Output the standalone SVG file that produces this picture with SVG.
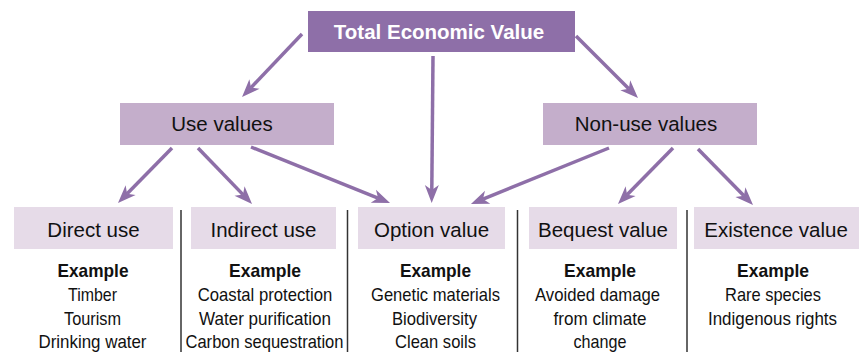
<svg xmlns="http://www.w3.org/2000/svg" width="859" height="354" viewBox="0 0 859 354">
<style>
.top{fill:#8e6fa8}
.mid{fill:#c4aecb}
.low{fill:#e6dbe8}
.lbl{font-family:"Liberation Sans",Arial,sans-serif;font-size:20.5px;fill:#111;text-anchor:middle}
.ttl{font-family:"Liberation Sans",Arial,sans-serif;font-size:20.5px;font-weight:bold;fill:#fff;text-anchor:middle}
.exh{font-family:"Liberation Sans",Arial,sans-serif;font-size:19px;font-weight:bold;fill:#111;text-anchor:middle}
.ex{font-family:"Liberation Sans",Arial,sans-serif;font-size:19px;fill:#111;text-anchor:middle}
.arr{stroke:#8e6fa8;stroke-width:3.5;fill:none;marker-end:url(#ah)}
.div{stroke:#333;stroke-width:1.5}
</style>
<defs>
<marker id="ah" markerUnits="userSpaceOnUse" markerWidth="20" markerHeight="16" refX="5" refY="7" orient="auto" overflow="visible">
<path d="M18,7 L0,0 L5,7 L0,14 Z" fill="#8e6fa8"/>
</marker>
</defs>
<g id="connectors">
<line class="arr" x1="302" y1="34" x2="251" y2="87.6"/>
<line class="arr" x1="433" y1="56" x2="431.8" y2="190"/>
<line class="arr" x1="576" y1="36" x2="628.8" y2="88.8"/>
<line class="arr" x1="172" y1="148" x2="127.1" y2="193.7"/>
<line class="arr" x1="198" y1="148" x2="243" y2="194.6"/>
<line class="arr" x1="251" y1="147" x2="378" y2="198.1"/>
<line class="arr" x1="609" y1="148" x2="483" y2="199.1"/>
<line class="arr" x1="673" y1="148" x2="627.1" y2="194.7"/>
<line class="arr" x1="698" y1="149" x2="743.9" y2="195.7"/>
</g>
<g id="dividers">
<line class="div" x1="181" y1="210" x2="181" y2="352"/>
<line class="div" x1="347.5" y1="210" x2="347.5" y2="352"/>
<line class="div" x1="517.5" y1="210" x2="517.5" y2="352"/>
<line class="div" x1="687" y1="210" x2="687" y2="352"/>
</g>
<g id="total">
<rect class="top" x="308" y="11" width="267" height="41"/>
<text class="ttl" x="439" y="38.5">Total Economic Value</text>
</g>
<g id="use">
<rect class="mid" x="120" y="103" width="214" height="42"/>
<text class="lbl" x="222" y="131">Use values</text>
</g>
<g id="nonuse">
<rect class="mid" x="543" y="103" width="214" height="42"/>
<text class="lbl" x="646" y="131">Non-use values</text>
</g>
<g id="direct">
<rect class="low" x="14" y="207" width="159" height="42"/>
<text class="lbl" x="93.5" y="237">Direct use</text>
<text class="exh" x="93" y="277" textLength="71" lengthAdjust="spacingAndGlyphs">Example</text>
<text class="ex" x="92.5" y="301" textLength="49" lengthAdjust="spacingAndGlyphs">Timber</text>
<text class="ex" x="92.5" y="324.5" textLength="57" lengthAdjust="spacingAndGlyphs">Tourism</text>
<text class="ex" x="92.5" y="348" textLength="108" lengthAdjust="spacingAndGlyphs">Drinking water</text>
</g>
<g id="indirect">
<rect class="low" x="191" y="207" width="145" height="42"/>
<text class="lbl" x="263.5" y="237">Indirect use</text>
<text class="exh" x="265" y="277" textLength="72" lengthAdjust="spacingAndGlyphs">Example</text>
<text class="ex" x="265" y="301" textLength="134.5" lengthAdjust="spacingAndGlyphs">Coastal protection</text>
<text class="ex" x="265" y="324.5" textLength="132" lengthAdjust="spacingAndGlyphs">Water purification</text>
<text class="ex" x="264.5" y="348" textLength="158" lengthAdjust="spacingAndGlyphs">Carbon sequestration</text>
</g>
<g id="option">
<rect class="low" x="358" y="207" width="147" height="42"/>
<text class="lbl" x="431.5" y="237">Option value</text>
<text class="exh" x="435.5" y="277" textLength="71" lengthAdjust="spacingAndGlyphs">Example</text>
<text class="ex" x="435.5" y="301" textLength="129" lengthAdjust="spacingAndGlyphs">Genetic materials</text>
<text class="ex" x="434.5" y="324.5" textLength="85" lengthAdjust="spacingAndGlyphs">Biodiversity</text>
<text class="ex" x="435.5" y="348" textLength="81" lengthAdjust="spacingAndGlyphs">Clean soils</text>
</g>
<g id="bequest">
<rect class="low" x="529" y="207" width="148" height="42"/>
<text class="lbl" x="603" y="237">Bequest value</text>
<text class="exh" x="600" y="277" textLength="72" lengthAdjust="spacingAndGlyphs">Example</text>
<text class="ex" x="597.5" y="301" textLength="125" lengthAdjust="spacingAndGlyphs">Avoided damage</text>
<text class="ex" x="600" y="324.5" textLength="93" lengthAdjust="spacingAndGlyphs">from climate</text>
<text class="ex" x="600" y="348" textLength="53" lengthAdjust="spacingAndGlyphs">change</text>
</g>
<g id="existence">
<rect class="low" x="694" y="207" width="165" height="42"/>
<text class="lbl" x="776" y="237">Existence value</text>
<text class="exh" x="773" y="277" textLength="72" lengthAdjust="spacingAndGlyphs">Example</text>
<text class="ex" x="773" y="301" textLength="96" lengthAdjust="spacingAndGlyphs">Rare species</text>
<text class="ex" x="772.5" y="324.5" textLength="129" lengthAdjust="spacingAndGlyphs">Indigenous rights</text>
</g>
</svg>
